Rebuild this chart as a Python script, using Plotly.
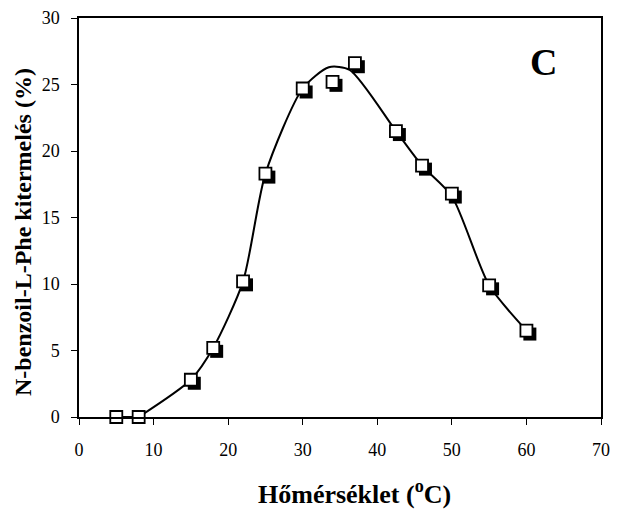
import plotly.graph_objects as go

# Measured yield of N-benzoyl-L-Phe vs. temperature
temp_c = [5, 8, 15, 18, 22, 25, 30, 34, 37, 42.5, 46, 50, 55, 60]
yield_pct = [0, 0, 2.8, 5.2, 10.2, 18.3, 24.7, 25.2, 26.6, 21.5, 18.9, 16.8, 9.9, 6.5]

# Hand-drawn trend curve through the measurements
fit_x = [5, 8, 15, 18, 22, 25, 30, 33.5, 36.3, 42.5, 46, 50, 55, 60]
fit_y = [0, 0, 2.8, 5.2, 10.2, 18.3, 24.7, 26.3, 26.1, 21.5, 18.9, 16.6, 9.9, 6.5]

x_ticks = list(range(0, 71, 10))
y_ticks = list(range(0, 31, 5))

W, H = 618, 520
M_L, M_R, M_T, M_B = 79, 8, 18, 103
plot_w = W - M_L - M_R
plot_h = H - M_T - M_B
X_RANGE = [0, 70]
Y_RANGE = [0, 30]
SHADOW_PX = 3.5
dx = SHADOW_PX * (X_RANGE[1] - X_RANGE[0]) / plot_w
dy = SHADOW_PX * (Y_RANGE[1] - Y_RANGE[0]) / plot_h

FONT = "Liberation Serif, Times New Roman, serif"
MARK = 12

fig = go.Figure()

# flat start along the baseline, then the smooth trend from 8 °C on
fig.add_trace(go.Scatter(
    x=fit_x[:2], y=fit_y[:2], mode="lines",
    line=dict(color="black", width=2),
    xaxis="x", yaxis="y", hoverinfo="skip", showlegend=False,
))
fig.add_trace(go.Scatter(
    x=fit_x[1:], y=fit_y[1:], mode="lines",
    line=dict(color="black", width=2, shape="spline", smoothing=0.7),
    xaxis="x", yaxis="y", hoverinfo="skip", showlegend=False,
))
# drop shadow of the markers (drawn on an offset overlay axis pair)
fig.add_trace(go.Scatter(
    x=temp_c, y=yield_pct, mode="markers",
    marker=dict(symbol="square", size=MARK + 1, color="black",
                line=dict(width=0)),
    xaxis="x2", yaxis="y2", cliponaxis=False, showlegend=False,
    hoverinfo="skip",
))
# open square markers
fig.add_trace(go.Scatter(
    x=temp_c, y=yield_pct, mode="markers",
    marker=dict(symbol="square", size=MARK, color="white",
                line=dict(color="black", width=1.8)),
    xaxis="x3", yaxis="y3", cliponaxis=False, showlegend=False,
))

hidden = dict(visible=False, showgrid=False, zeroline=False, fixedrange=True)
axis_common = dict(
    ticks="outside", ticklen=6, tickwidth=1.3, tickcolor="black",
    showline=True, linecolor="black", linewidth=1.5, mirror=True,
    showgrid=False, zeroline=False, tickfont=dict(family=FONT, size=18),
)

fig.update_layout(
    width=W, height=H,
    margin=dict(l=M_L, r=M_R, t=M_T, b=M_B),
    paper_bgcolor="white", plot_bgcolor="white",
    font=dict(family=FONT, color="black", size=18),
    xaxis=dict(axis_common, range=X_RANGE, tickvals=x_ticks,
               ticklabelstandoff=10),
    yaxis=dict(axis_common, range=Y_RANGE, tickvals=y_ticks,
               ticklabelstandoff=8),
    xaxis2=dict(hidden, overlaying="x", range=[X_RANGE[0] - dx, X_RANGE[1] - dx]),
    yaxis2=dict(hidden, overlaying="y", range=[Y_RANGE[0] + dy, Y_RANGE[1] + dy]),
    xaxis3=dict(hidden, overlaying="x", range=X_RANGE),
    yaxis3=dict(hidden, overlaying="y", range=Y_RANGE),
    annotations=[
        dict(text="<b>C</b>", xref="paper", yref="paper", x=0.889, y=0.89,
             xanchor="center", yanchor="middle", showarrow=False,
             font=dict(family=FONT, size=38, color="black")),
        dict(text="<b>Hőmérséklet (<sup>o</sup>C)</b>", xref="paper",
             yref="paper", x=0.528, y=-0.19, xanchor="center",
             yanchor="middle", showarrow=False,
             font=dict(family=FONT, size=26, color="black")),
        dict(text="<b>N-benzoil-L-Phe kitermelés (%)</b>", xref="paper",
             yref="paper", x=-0.107, y=0.464, xanchor="center",
             yanchor="middle", textangle=-90, showarrow=False,
             font=dict(family=FONT, size=24, color="black")),
    ],
)

fig.write_html("out.html")
